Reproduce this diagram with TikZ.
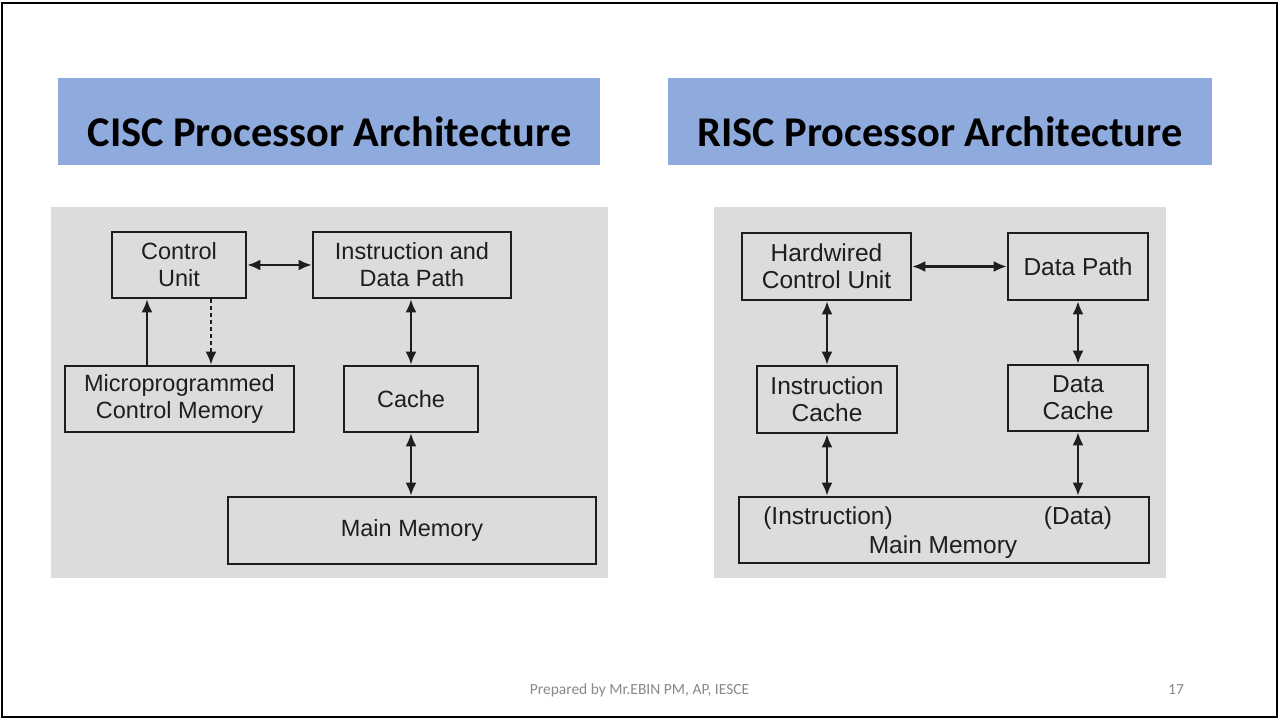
\documentclass[tikz,border=0pt]{standalone}
\usepackage{fontspec}
\setmainfont{Liberation Sans}
\newfontfamily\titlefont{Carlito}
\usetikzlibrary{arrows.meta}
\definecolor{titleblue}{HTML}{8FAADC}
\definecolor{panelgray}{HTML}{DCDCDC}
\definecolor{ink}{HTML}{1E1E1E}
\definecolor{footgray}{HTML}{898989}
\tikzset{
  blk/.style={draw=ink, line width=2.6pt, fill=none, inner sep=0pt, align=center,
    text=ink, font=\fontsize{23.5}{27}\selectfont},
  rblk/.style={blk, font=\fontsize{24.5}{27}\selectfont},
  lbl/.style={inner sep=0pt, text=ink, font=\fontsize{24.5}{27}\selectfont},
  link/.style={draw=ink, line width=2.2pt, {Latex[length=13pt,width=11pt]}-{Latex[length=13pt,width=11pt]}},
  uplink/.style={draw=ink, line width=2.2pt, -{Latex[length=13pt,width=11pt]}},
  dashlink/.style={uplink, dash pattern=on 4pt off 3pt},
  headbox/.style={fill=titleblue, inner sep=0pt},
  headtext/.style={inner sep=0pt, anchor=base, font=\titlefont\bfseries\fontsize{42.4}{48}\selectfont},
  foot/.style={inner sep=0pt, anchor=base, text=footgray, font=\titlefont\fontsize{15.5}{18}\selectfont}
}
\begin{document}
\begin{tikzpicture}[x=1pt, y=-1pt]
\useasboundingbox (0,0) rectangle (1279,719);
\fill[white] (0,0) rectangle (1279,719);
\draw[black, line width=2.6pt] (2,3) rectangle (1277,717);

% heading bars
\fill[headbox] (58,78) rectangle (600,165);
\fill[headbox] (668,78) rectangle (1212,165);
\node[headtext] (cisc) at (329.5,147) {CISC Processor Architecture};
\node[headtext] (risc) at (940,147) {RISC Processor Architecture};

% grey panels
\fill[panelgray] (51,207) rectangle (608,578);
\fill[panelgray] (714,207) rectangle (1166,578);

% CISC blocks
\node[blk, minimum width=134pt, minimum height=66pt] (cu) at (179,265) {Control\\Unit};
\node[blk, minimum width=198pt, minimum height=66pt] (idp) at (412,265) {Instruction and\\Data Path};
\node[blk, minimum width=229pt, minimum height=66pt] (mcm) at (179.5,399) {Microprogrammed\\Control Memory};
\node[blk, minimum width=134pt, minimum height=66pt] (cache) at (411,399) {Cache};
\node[blk, minimum width=368pt, minimum height=67pt] (mm) at (412,530.5) {Main Memory};

\coordinate (upx) at (147,0);
\coordinate (dnx) at (211,0);
\coordinate (cx) at (411,0);

\draw[link] (cu.east) -- (idp.west);
\draw[uplink] (mcm.north -| upx) -- (cu.south -| upx);
\draw[dashlink] (cu.south -| dnx) -- (mcm.north -| dnx);
\draw[link] (idp.south -| cx) -- (cache.north -| cx);
\draw[link] (cache.south -| cx) -- (mm.north -| cx);

% RISC blocks
\node[rblk, minimum width=169pt, minimum height=67pt] (hcu) at (826.5,266.5) {Hardwired\\Control Unit};
\node[rblk, minimum width=140pt, minimum height=67pt] (dp) at (1078,266.5) {Data Path};
\node[rblk, minimum width=140pt, minimum height=67pt] (ic) at (827,399.5) {Instruction\\Cache};
\node[rblk, minimum width=140pt, minimum height=66pt] (dc) at (1078,398) {Data\\Cache};
\node[draw=ink, line width=2.6pt, inner sep=0pt, minimum width=410pt, minimum height=66pt] (rmm) at (944,530) {};
\node[lbl, anchor=base] (rinstr) at (828,524) {(Instruction)};
\node[lbl, anchor=base] (rdata) at (1078,524) {(Data)};
\node[lbl, anchor=base] (rmain) at (943,553) {Main Memory};

\coordinate (ix) at (827,0);
\coordinate (dx) at (1078,0);

\draw[link] (hcu.east) -- (dp.west);
\draw[link] (hcu.south -| ix) -- (ic.north -| ix);
\draw[link] (ic.south -| ix) -- (rmm.north -| ix);
\draw[link] (dp.south -| dx) -- (dc.north -| dx);
\draw[link] (dc.south -| dx) -- (rmm.north -| dx);

% footer
\node[foot] (credit) at (639.5,694) {Prepared by Mr.EBIN PM, AP, IESCE};
\node[foot] (pageno) at (1176,694) {17};
\end{tikzpicture}
\end{document}
